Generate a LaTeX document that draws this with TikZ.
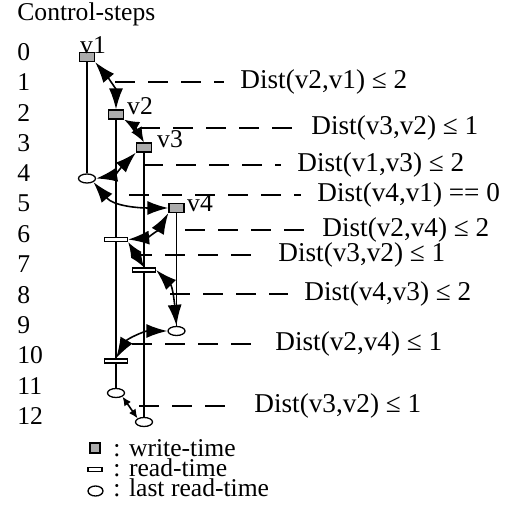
\documentclass[tikz,border=0pt]{standalone}
\usepackage{fontspec}
\setmainfont{Liberation Serif}
\usetikzlibrary{arrows.meta,shapes.geometric}
\begin{document}
\begin{tikzpicture}[x=0.5pt, y=-0.5pt, font=\fontsize{12.8}{15}\selectfont,
  wtime/.style={draw, fill=black!33, line width=0.65pt, inner sep=0, minimum width=7.5pt, minimum height=4.5pt},
  rtime/.style={draw, fill=white, line width=0.65pt, inner sep=0, minimum width=11.5pt, minimum height=2pt},
  lrtime/.style={ellipse, draw, fill=white, line width=0.65pt, inner sep=0, minimum width=8.5pt, minimum height=4.5pt},
  txt/.style={inner sep=0},
  life/.style={line width=0.8pt},
  dep/.style={{Latex[length=10.5pt,width=7pt]}-{Latex[length=10.5pt,width=7pt]}, line width=0.8pt},
  shortdep/.style={{Latex[length=7.5pt,width=6pt]}-{Latex[length=7.5pt,width=6pt]}, line width=0.8pt},
  smalldep/.style={{Latex[length=4.5pt,width=4pt]}-{Latex[length=4.5pt,width=4pt]}, line width=0.8pt},
  cons/.style={dash pattern=on 10pt off 6.5pt, line width=0.65pt},
  dist/.style={inner sep=0, anchor=west, font=\fontsize{13.6}{15}\selectfont}]

\useasboundingbox (0,0) rectangle (504,506);

\node[txt, anchor=base west] (title) at (17,21) {Control-steps};
\foreach \k in {0,...,12}
  \node[txt, anchor=west] (s\k) at (17,{52+30.33*\k}) {\k};

\node[wtime] (v1w) at (87,57) {};
\node[lrtime] (v1l) at (87,178.5) {};
\node[wtime] (v2w) at (116,114.5) {};
\node[rtime] (v2r6) at (116,239.5) {};
\node[rtime] (v2r10) at (116,361) {};
\node[lrtime] (v2l) at (116,393) {};
\node[wtime] (v3w) at (144,147.5) {};
\node[rtime] (v3r) at (144,270) {};
\node[lrtime] (v3l) at (144,422) {};
\node[wtime] (v4w) at (176.5,208) {};
\node[lrtime] (v4l) at (176.5,331) {};

\node[txt] (n1) at (93,45) {v1};
\node[txt] (n2) at (140,106.5) {v2};
\node[txt] (n3) at (170,139.5) {v3};
\node[txt] (n4) at (200,203) {v4};

\draw[life] (v1w) -- (v1l);
\draw[life] (v2w) -- (v2r6) -- (v2r10) -- (v2l);
\draw[life] (v3w) -- (v3r) -- (v3l);
\draw[life] (v4w) -- (v4l);

\draw[dep] (v1w.south east) to[out=-50,in=90] (v2w.north);
\draw[shortdep] (v2w.south east) to[out=-30,in=120] (v3w.north);
\draw[dep] (v3w.south west) to[out=-135,in=10] (v1l.east);
\draw[dep] (v1l.south east) to[out=-50,in=180] (v4w.west);
\draw[dep] (v4w.south west) to[out=-120,in=5] (v2r6.east);
\draw[shortdep] (v2r6.south east) -- (v3r.north);
\draw[dep] (v3r.east) to[out=-45,in=95] (v4l.north);
\draw[dep] (v4l.west) to[out=180,in=60] (v2r10.north);
\draw[smalldep] (v2l.south east) -- (v3l.north west);

\foreach \y/\xs/\xt/\lbl [count=\i] in {82/115/240/{Dist(v2,v1) ≤ 2}, 128/140/311/{Dist(v3,v2) ≤ 1},
    165/143/297/{Dist(v1,v3) ≤ 2}, 195/129/317/{Dist(v4,v1) == 0}, 230/185/322/{Dist(v2,v4) ≤ 2},
    255/132/278/{Dist(v3,v2) ≤ 1}, 294/170/304/{Dist(v4,v3) ≤ 2}, 344/132/275/{Dist(v2,v4) ≤ 1},
    406/139/254/{Dist(v3,v2) ≤ 1}} {
  \coordinate (c\i) at (\xs,\y);
  \node[dist] (d\i) at (\xt,\y) {\lbl};
  \draw[cons] (c\i) -- ([xshift=-8pt]d\i.west);
}

\node[wtime, minimum width=5pt, minimum height=5pt] (kw) at (95,448) {};
\node[rtime, minimum width=7pt, minimum height=2pt] (kr) at (95,469.5) {};
\node[lrtime, minimum width=7.5pt, minimum height=5pt] (kl) at (95.5,491) {};
\node[txt, anchor=base west] (tw) at (113,456) {: write-time};
\node[txt, anchor=base west] (tr) at (113,476) {: read-time};
\node[txt, anchor=base west] (tl) at (113,496) {: last read-time};
\end{tikzpicture}
\end{document}
